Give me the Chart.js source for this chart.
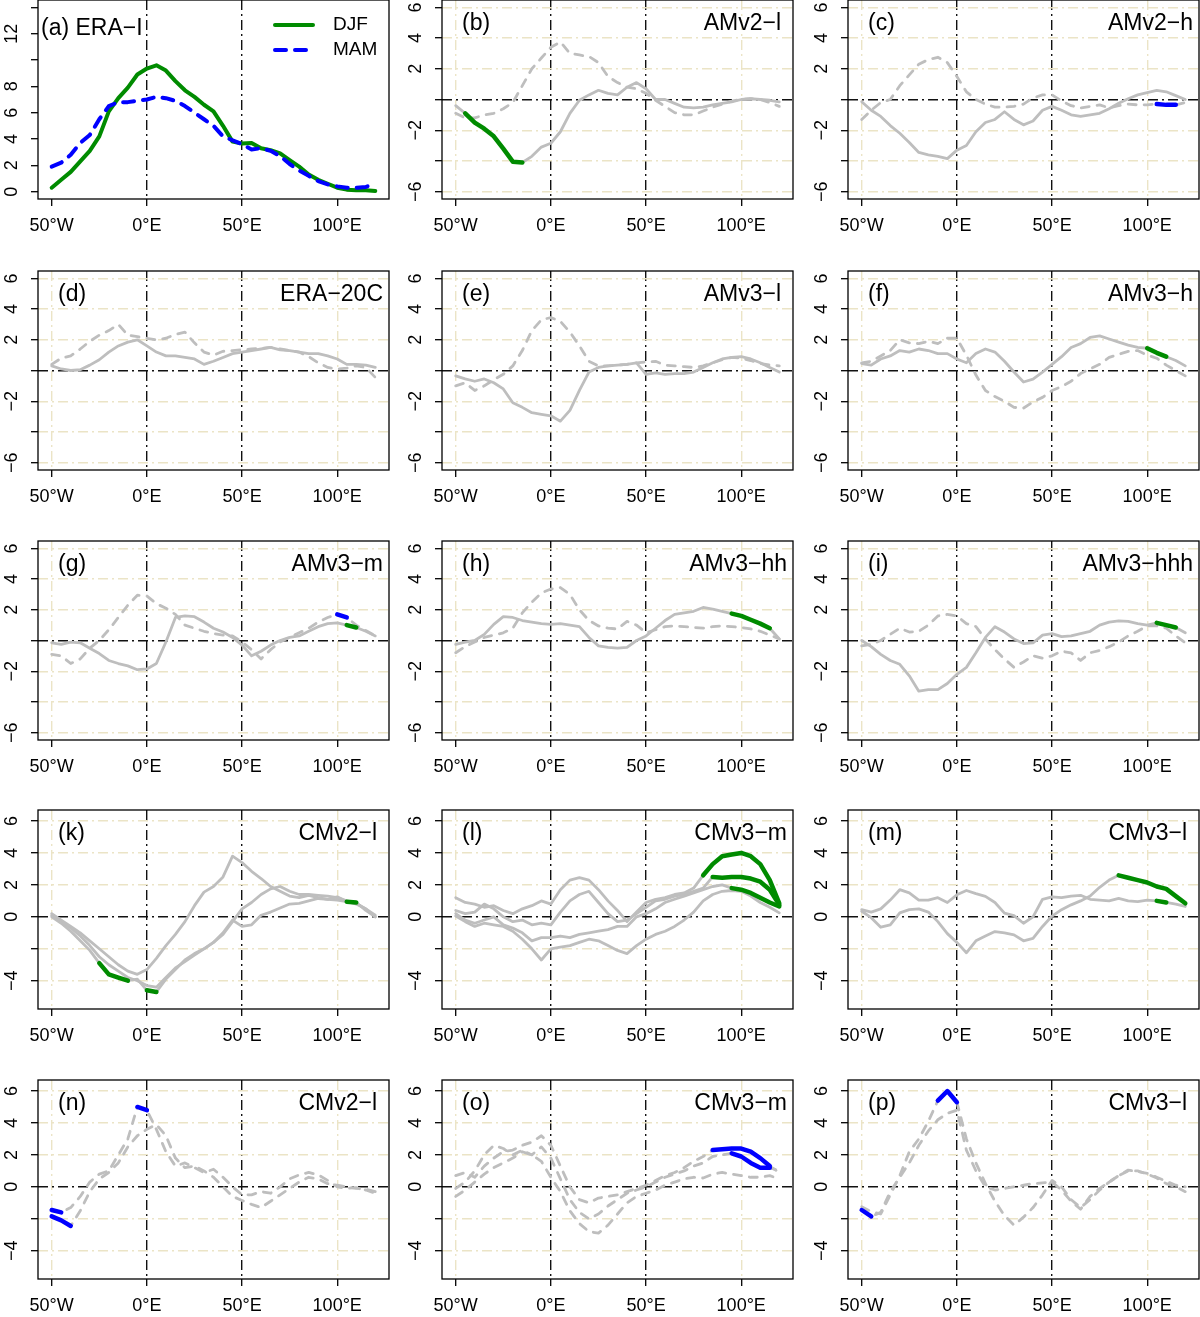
<!DOCTYPE html>
<html>
<head>
<meta charset="utf-8">
<script src="https://cdn.jsdelivr.net/npm/chart.js@4/dist/chart.umd.min.js"></script>
<style>
  html, body { margin: 0; padding: 0; background: #fff; }
  body { position: relative; width: 1200px; height: 1317px; overflow: hidden; }
  canvas { position: absolute; }
</style>
</head>
<body>
<script>
// longitude axis (degrees east)
const lon = [-50, -45, -40, -35, -30, -25, -20, -15, -10, -5, 0, 5, 10, 15, 20, 25, 30, 35,
             40, 45, 50, 55, 60, 65, 70, 75, 80, 85, 90, 95, 100, 105, 110, 115, 120];
const xTicks = [-50, 0, 50, 100];
const xTickLabels = ['50°W', '0°E', '50°E', '100°E'];

const yTicksA = [0, 2, 4, 6, 8, 10, 12, 14];
const yLabelsA = ['0', '2', '4', '6', '8', '', '12', ''];
const yTicksMid = [-6, -4, -2, 0, 2, 4, 6];
const yLabelsMid = ['−6', '', '−2', '', '2', '4', '6'];
const yTicksLow = [-4, -2, 0, 2, 4, 6];
const yLabelsLow = ['−4', '', '0', '2', '4', '6'];

const legendLabels = ['DJF', 'MAM'];

// (a) ERA-I
const aDJF = [0.3, 0.9, 1.5, 2.3, 3.1, 4.2, 6.1, 7.1, 7.9, 8.9, 9.35, 9.6, 9.2, 8.4, 7.7, 7.2, 6.6, 6.1, 5.0, 3.8, 3.65, 3.7, 3.3, 3.15, 2.9, 2.4, 1.9, 1.3, 0.9, 0.6, 0.3, 0.15, 0.1, 0.1, 0.05];
const aMAM = [1.9, 2.2, 2.8, 3.7, 4.3, 5.5, 6.5, 6.8, 6.8, 6.9, 7.0, 7.2, 7.1, 6.9, 6.5, 6.0, 5.5, 5.0, 4.2, 3.9, 3.6, 3.2, 3.3, 3.1, 2.7, 2.1, 1.6, 1.2, 0.8, 0.55, 0.4, 0.3, 0.3, 0.35, 0.65];

// (b)-(i) single-run differences
const bDJF = [-0.4, -0.9, -1.5, -1.9, -2.4, -3.2, -4.05, -4.1, -3.7, -3.1, -2.85, -2.1, -0.9, -0.05, 0.3, 0.6, 0.4, 0.3, 0.8, 1.1, 0.7, 0.0, 0.0, -0.25, -0.5, -0.55, -0.5, -0.35, -0.25, -0.15, 0.0, 0.05, 0.0, -0.05, -0.15];
const bMAM = [-0.9, -1.2, -1.2, -1.0, -0.9, -0.6, -0.2, 0.9, 2.0, 2.7, 3.4, 3.75, 3.0, 2.9, 2.8, 2.4, 1.5, 1.1, 0.8, 0.7, 0.4, -0.05, -0.45, -0.85, -1.0, -1.0, -0.75, -0.5, -0.3, -0.1, 0.0, 0.05, 0.0, -0.2, -0.45];
const cDJF = [-0.15, -0.7, -1.1, -1.7, -2.2, -2.8, -3.45, -3.6, -3.7, -3.85, -3.3, -3.0, -2.1, -1.5, -1.3, -0.8, -1.3, -1.65, -1.4, -0.7, -0.45, -0.7, -1.0, -1.1, -1.0, -0.9, -0.6, -0.25, 0.05, 0.3, 0.45, 0.6, 0.5, 0.25, 0.0];
const cMAM = [-1.3, -0.7, -0.2, 0.0, 0.9, 1.6, 2.3, 2.6, 2.75, 2.4, 1.5, 0.5, 0.0, -0.3, -0.5, -0.5, -0.45, -0.3, 0.1, 0.3, 0.3, -0.1, -0.4, -0.55, -0.45, -0.35, -0.55, -0.4, -0.3, -0.35, -0.35, -0.3, -0.35, -0.35, -0.2];
const dDJF = [0.3, 0.1, 0.0, 0.05, 0.35, 0.7, 1.2, 1.6, 1.85, 2.0, 1.6, 1.2, 0.95, 0.95, 0.85, 0.75, 0.4, 0.6, 0.85, 1.1, 1.2, 1.3, 1.4, 1.5, 1.35, 1.3, 1.2, 1.1, 1.1, 0.95, 0.75, 0.4, 0.4, 0.35, 0.2];
const dMAM = [0.4, 0.8, 0.95, 1.4, 1.9, 2.3, 2.6, 3.0, 2.3, 2.2, 2.1, 2.0, 2.1, 2.35, 2.5, 1.8, 1.2, 1.0, 1.25, 1.3, 1.35, 1.4, 1.45, 1.5, 1.4, 1.3, 1.2, 0.9, 0.5, 0.2, 0.1, 0.15, 0.3, 0.2, -0.45];
const eDJF = [-0.35, -0.55, -0.7, -0.55, -0.8, -1.2, -2.1, -2.4, -2.75, -2.85, -2.95, -3.3, -2.6, -1.3, -0.1, 0.2, 0.3, 0.35, 0.4, 0.5, -0.25, -0.15, -0.25, -0.2, -0.2, -0.1, 0.2, 0.5, 0.75, 0.85, 0.9, 0.75, 0.5, 0.2, -0.1];
const eMAM = [-1.0, -0.8, -1.3, -1.0, -0.6, -0.25, 0.3, 1.3, 2.6, 3.3, 3.45, 3.2, 2.5, 1.6, 0.6, 0.3, 0.3, 0.35, 0.4, 0.5, 0.55, 0.6, 0.35, 0.3, 0.25, 0.2, 0.3, 0.5, 0.7, 0.85, 0.8, 0.65, 0.45, 0.35, 0.3];
const fDJF = [0.45, 0.35, 0.75, 0.95, 1.3, 1.2, 1.4, 1.3, 1.1, 1.1, 0.75, 0.5, 1.1, 1.4, 1.2, 0.6, -0.1, -0.75, -0.56, -0.1, 0.4, 0.9, 1.5, 1.75, 2.15, 2.25, 2.05, 1.85, 1.65, 1.5, 1.45, 1.15, 0.9, 0.65, 0.3];
const fMAM = [0.5, 0.6, 0.95, 1.3, 2.0, 1.8, 1.75, 1.9, 1.75, 2.1, 2.1, 1.0, -0.3, -1.3, -1.7, -2.0, -2.4, -2.45, -2.05, -1.75, -1.3, -1.05, -0.7, -0.2, 0.1, 0.4, 0.85, 1.05, 1.25, 1.3, 1.0, 0.8, 0.35, 0.0, -0.35];
const gDJF = [-0.15, -0.25, -0.1, -0.15, -0.5, -0.85, -1.3, -1.5, -1.65, -1.9, -1.85, -1.5, -0.1, 1.5, 1.6, 1.55, 1.2, 0.8, 0.55, 0.2, -0.3, -1.0, -0.7, -0.3, 0.0, 0.2, 0.3, 0.6, 0.9, 1.1, 1.15, 1.0, 0.85, 0.6, 0.3];
const gMAM = [-0.9, -1.0, -1.5, -1.2, -0.5, 0.0, 0.7, 1.5, 2.3, 2.95, 2.9, 2.4, 2.1, 1.7, 1.0, 0.8, 0.6, 0.45, 0.35, 0.3, -0.1, -0.6, -1.2, -0.6, -0.1, 0.2, 0.5, 0.8, 1.2, 1.5, 1.7, 1.5, 1.0, 0.65, 0.3];
const hDJF = [-0.25, -0.1, 0.0, 0.4, 1.05, 1.55, 1.5, 1.3, 1.2, 1.1, 1.05, 1.1, 1.0, 0.9, 0.2, -0.35, -0.45, -0.5, -0.45, 0.0, 0.3, 0.8, 1.3, 1.7, 1.8, 1.9, 2.15, 2.05, 1.9, 1.75, 1.6, 1.35, 1.1, 0.8, 0.1];
const hMAM = [-0.8, -0.4, -0.1, 0.2, 0.35, 0.5, 0.8, 1.8, 2.5, 3.1, 3.35, 3.45, 3.0, 2.0, 1.3, 0.95, 0.8, 0.75, 1.25, 1.0, 0.5, 0.7, 0.9, 0.95, 0.9, 0.85, 0.8, 0.9, 0.95, 0.9, 0.85, 0.75, 0.6, 0.35, 0.1];
const iDJF = [0.0, -0.4, -0.9, -1.3, -1.55, -2.3, -3.3, -3.2, -3.2, -2.8, -2.2, -1.75, -0.8, 0.2, 0.9, 0.55, 0.1, -0.2, -0.15, 0.35, 0.45, 0.25, 0.3, 0.45, 0.6, 1.0, 1.2, 1.28, 1.25, 1.1, 1.0, 1.15, 1.0, 0.85, 0.5];
const iMAM = [-0.35, -0.25, 0.0, 0.4, 0.8, 0.55, 0.6, 1.0, 1.6, 1.7, 1.6, 1.1, 0.9, 0.1, -0.6, -1.2, -1.75, -1.4, -1.0, -1.15, -1.0, -0.7, -0.8, -1.3, -0.8, -0.65, -0.4, -0.1, 0.3, 0.6, 0.95, 0.95, 0.8, 0.3, -0.15];

// (k)-(m) coupled runs, DJF
const kDJF1 = [0.2, -0.2, -0.6, -1.0, -1.5, -2.0, -2.5, -3.0, -3.4, -3.6, -3.3, -2.6, -1.8, -1.1, -0.3, 0.7, 1.55, 1.9, 2.5, 3.8, 3.4, 2.85, 2.4, 1.9, 1.6, 1.3, 1.2, 1.35, 1.2, 1.1, 1.25, 0.96, 0.8, 0.5, 0.0];
const kDJF2 = [0.1, -0.3, -0.7, -1.2, -1.8, -2.5, -3.0, -3.4, -3.8, -4.0, -4.3, -4.4, -3.8, -3.2, -2.8, -2.4, -2.0, -1.6, -1.1, -0.3, 0.5, 0.9, 1.4, 1.75, 1.9, 1.6, 1.4, 1.4, 1.35, 1.3, 1.2, 1.0, 0.85, 0.5, 0.1];
const kDJF3 = [0.0, -0.4, -0.9, -1.5, -2.1, -2.9, -3.6, -3.8, -4.0, -3.9, -4.6, -4.7, -3.9, -3.3, -2.7, -2.3, -2.0, -1.6, -1.0, -0.2, -0.6, -0.5, 0.1, 0.3, 0.55, 0.8, 0.85, 1.0, 1.15, 1.1, 1.05, 0.95, 0.9, 0.4, 0.0];
const lDJF1 = [1.2, 0.9, 0.8, 0.6, 0.7, 0.4, 0.2, 0.5, 0.7, 1.0, 0.8, 1.7, 2.3, 2.45, 2.3, 1.7, 1.0, 0.4, -0.3, 0.3, 0.9, 1.1, 1.2, 1.4, 1.5, 1.8, 2.6, 3.3, 3.8, 3.9, 4.0, 3.8, 3.3, 2.3, 0.85];
const lDJF2 = [0.4, 0.2, 0.3, 0.8, 0.5, 0.0, -0.3, -0.2, -0.5, -0.4, -0.5, 0.3, 1.0, 1.4, 1.6, 0.9, 0.2, -0.3, -0.2, 0.2, 0.6, 1.0, 1.1, 1.3, 1.4, 1.6, 1.8, 2.5, 2.45, 2.5, 2.5, 2.4, 2.2, 1.7, 0.75];
const lDJF3 = [0.2, -0.2, -0.4, -0.2, 0.0, -0.5, -0.7, -1.0, -1.5, -1.3, -1.3, -1.2, -1.3, -1.1, -1.0, -0.9, -0.8, -0.6, -0.6, 0.0, 0.2, 0.5, 0.9, 1.1, 1.3, 1.5, 1.7, 1.9, 2.0, 1.8, 1.7, 1.5, 1.2, 0.9, 0.65];
const lDJF4 = [0.05, -0.3, -0.6, -0.4, -0.5, -0.6, -0.9, -1.4, -2.0, -2.7, -2.0, -1.9, -1.8, -1.6, -1.4, -1.5, -1.8, -2.1, -2.3, -1.8, -1.4, -1.1, -0.9, -0.6, -0.2, 0.3, 1.0, 1.4, 1.6, 1.65, 1.6, 1.3, 0.9, 0.6, 0.25];
const mDJF1 = [0.45, 0.3, 0.5, 1.05, 1.7, 1.5, 1.05, 1.05, 1.2, 0.9, 1.38, 1.65, 1.45, 1.28, 0.9, 0.23, 0.08, -0.4, 0.0, 1.1, 1.25, 1.2, 1.3, 1.35, 1.1, 1.05, 1.0, 1.15, 1.0, 0.95, 1.05, 1.0, 0.9, 0.8, 0.65];
const mDJF2 = [0.35, -0.05, -0.65, -0.5, 0.25, 0.45, 0.5, 0.3, -0.3, -1.05, -1.6, -2.25, -1.5, -1.2, -0.92, -1.0, -1.13, -1.5, -1.35, -0.6, 0.05, 0.45, 0.75, 1.0, 1.3, 1.85, 2.3, 2.6, 2.45, 2.3, 2.15, 1.9, 1.75, 1.3, 0.85];

// (n)-(p) coupled runs, MAM
const nMAM1 = [-1.45, -1.6, -1.3, -0.6, 0.3, 0.8, 1.0, 2.0, 3.0, 5.0, 4.8, 3.6, 2.2, 1.3, 1.5, 1.2, 0.9, 1.1, 0.6, 0.0, -0.5, -0.5, -0.3, -0.4, 0.0, 0.5, 0.75, 0.9, 0.75, 0.4, 0.0, -0.1, -0.05, -0.2, -0.4];
const nMAM2 = [-1.85, -2.1, -2.45, -1.5, -0.3, 0.5, 0.9, 1.5, 2.5, 3.2, 3.6, 3.9, 3.2, 1.8, 1.2, 1.3, 1.0, 0.6, 0.0, -0.6, -0.85, -1.1, -1.3, -0.9, -0.5, -0.1, 0.3, 0.6, 0.5, 0.2, 0.1, 0.0, -0.1, -0.15, -0.3];
const oMAM1 = [0.7, 0.9, 0.6, 1.3, 1.8, 2.2, 2.3, 2.6, 2.8, 3.2, 2.6, 1.3, 0.0, -0.8, -1.0, -0.7, -0.6, -0.5, -0.3, -0.1, 0.1, 0.4, 0.7, 0.9, 1.2, 1.6, 1.9, 2.3, 2.35, 2.4, 2.4, 2.2, 1.8, 1.3, 0.9];
const oMAM2 = [-0.1, 0.3, 1.0, 2.0, 2.6, 2.4, 2.0, 2.3, 2.0, 2.5, 1.8, 0.5, -0.8, -1.6, -2.0, -1.7, -1.2, -0.8, -0.4, -0.2, 0.0, 0.3, 0.6, 0.8, 1.0, 1.3, 1.5, 1.9, 2.0, 2.1, 1.9, 1.5, 1.2, 1.2, 1.0];
const oMAM3 = [-0.6, -0.2, 0.3, 0.8, 1.2, 1.5, 1.8, 2.2, 2.0, 1.6, 0.6, -0.3, -1.5, -2.3, -2.8, -2.9, -2.4, -1.7, -1.0, -0.6, -0.4, -0.2, 0.1, 0.3, 0.5, 0.6, 0.55, 0.8, 0.9, 0.8, 0.7, 0.6, 0.6, 0.7, 0.5];
const pMAM1 = [-1.25, -1.55, -1.7, -0.5, 0.7, 2.2, 3.0, 4.1, 5.4, 6.0, 5.3, 3.0, 1.5, 0.2, -0.9, -1.8, -2.4, -1.9, -1.3, -0.5, 0.4, 0.0, -0.8, -1.3, -0.8, -0.2, 0.3, 0.7, 1.0, 1.0, 0.8, 0.55, 0.2, 0.0, -0.3];
const pMAM2 = [-1.45, -1.85, -1.6, -0.3, 0.6, 1.5, 2.6, 3.5, 4.2, 4.6, 4.8, 2.3, 1.0, 0.0, -0.2, -0.1, 0.0, 0.1, 0.2, 0.25, 0.3, -0.2, -0.9, -1.4, -0.6, -0.1, 0.3, 0.7, 1.05, 0.95, 0.85, 0.6, 0.35, 0.1, 0.0];

// significant stretches, [from, to] in degrees east
const bDJFSig = [[-45, -15]];
const cMAMSig = [[105, 115]];
const fDJFSig = [[98, 112]];
const gDJFSig = [[104, 110]];
const gMAMSig = [[98, 106]];
const hDJFSig = [[95, 115]];
const iDJFSig = [[101, 116]];
const kDJF3Sig = [[-25, -10], [0, 5], [105, 110]];
const lDJF1Sig = [[80, 120]];
const lDJF2Sig = [[85, 120]];
const lDJF3Sig = [[95, 120]];
const mDJF1Sig = [[104, 110]];
const mDJF2Sig = [[85, 120]];
const nMAM1Sig = [[-50, -45], [-5, 0]];
const nMAM2Sig = [[-50, -40]];
const oMAM1Sig = [[85, 115]];
const oMAM2Sig = [[95, 115]];
const pMAM1Sig = [[-12, 2]];
const pMAM2Sig = [[-50, -45]];

const GRAY = '#bebebe', GREEN = '#008b00', BLUE = '#0000ff';
const BEIGE = '#ebe4c6', REF = '#111111';
const FONT = '"Liberation Sans", Arial, Helvetica, sans-serif';

const BOX_L = [38, 442, 848];
const BOX_T = [0, 271, 541, 810, 1080];
const BOX_W = 351, BOX_H = 199;
const Y_W = 38, X_H = 42, PAD_T = 1, PAD_R = 2;
const X_MIN = -57.2, X_MAX = 127.2;

const Y_KINDS = {
  a:   { min: -0.56, max: 14.56, ticks: yTicksA, labels: yLabelsA },
  mid: { min: -6.48, max: 6.48, ticks: yTicksMid, labels: yLabelsMid },
  low: { min: -5.77, max: 6.69, ticks: yTicksLow, labels: yLabelsLow }
};

const panels = [
  { col: 0, row: 0, tag: '(a) ERA−I', name: '', y: 'a', plain: true, legend: true },
  { col: 1, row: 0, tag: '(b)', name: 'AMv2−l', y: 'mid', djf: [[bDJF, bDJFSig]], mam: [[bMAM, null]] },
  { col: 2, row: 0, tag: '(c)', name: 'AMv2−h', y: 'mid', djf: [[cDJF, null]], mam: [[cMAM, cMAMSig]] },
  { col: 0, row: 1, tag: '(d)', name: 'ERA−20C', y: 'mid', djf: [[dDJF, null]], mam: [[dMAM, null]] },
  { col: 1, row: 1, tag: '(e)', name: 'AMv3−l', y: 'mid', djf: [[eDJF, null]], mam: [[eMAM, null]] },
  { col: 2, row: 1, tag: '(f)', name: 'AMv3−h', y: 'mid', djf: [[fDJF, fDJFSig]], mam: [[fMAM, null]] },
  { col: 0, row: 2, tag: '(g)', name: 'AMv3−m', y: 'mid', djf: [[gDJF, gDJFSig]], mam: [[gMAM, gMAMSig]] },
  { col: 1, row: 2, tag: '(h)', name: 'AMv3−hh', y: 'mid', djf: [[hDJF, hDJFSig]], mam: [[hMAM, null]] },
  { col: 2, row: 2, tag: '(i)', name: 'AMv3−hhh', y: 'mid', djf: [[iDJF, iDJFSig]], mam: [[iMAM, null]] },
  { col: 0, row: 3, tag: '(k)', name: 'CMv2−l', y: 'low', djf: [[kDJF1, null], [kDJF2, null], [kDJF3, kDJF3Sig]], mam: [] },
  { col: 1, row: 3, tag: '(l)', name: 'CMv3−m', y: 'low', djf: [[lDJF1, lDJF1Sig], [lDJF2, lDJF2Sig], [lDJF3, lDJF3Sig], [lDJF4, null]], mam: [] },
  { col: 2, row: 3, tag: '(m)', name: 'CMv3−l', y: 'low', djf: [[mDJF1, mDJF1Sig], [mDJF2, mDJF2Sig]], mam: [] },
  { col: 0, row: 4, tag: '(n)', name: 'CMv2−l', y: 'low', djf: [], mam: [[nMAM1, nMAM1Sig], [nMAM2, nMAM2Sig]] },
  { col: 1, row: 4, tag: '(o)', name: 'CMv3−m', y: 'low', djf: [], mam: [[oMAM1, oMAM1Sig], [oMAM2, oMAM2Sig], [oMAM3, null]] },
  { col: 2, row: 4, tag: '(p)', name: 'CMv3−l', y: 'low', djf: [], mam: [[pMAM1, pMAM1Sig], [pMAM2, pMAM2Sig]] }
];

function inSig(x, sig) {
  if (!sig) return true;
  return sig.some(r => x >= r[0] && x <= r[1]);
}

function points(vals, sig) {
  return lon.map((x, i) => ({ x: x, y: inSig(x, sig) ? vals[i] : null }));
}

// lower "order" is drawn on top
function line(vals, sig, color, width, dash, order) {
  return {
    data: points(vals, sig),
    borderColor: color,
    borderWidth: width,
    borderDash: dash,
    borderCapStyle: 'round',
    borderJoinStyle: 'round',
    pointRadius: 0,
    fill: false,
    spanGaps: false,
    tension: 0,
    order: order
  };
}

function buildDatasets(p) {
  if (p.plain) {
    return [line(aDJF, null, GREEN, 4, [], 2), line(aMAM, null, BLUE, 4, [11, 9], 1)];
  }
  const ds = [];
  p.djf.forEach(([v]) => ds.push(line(v, null, GRAY, 2.8, [], 2)));
  p.mam.forEach(([v]) => ds.push(line(v, null, GRAY, 2.8, [8, 8], 2)));
  p.djf.forEach(([v, s]) => { if (s) ds.push(line(v, s, GREEN, 4.5, [], 1)); });
  p.mam.forEach(([v, s]) => { if (s) ds.push(line(v, s, BLUE, 4.5, [], 1)); });
  return ds;
}

// box, panel titles and the legend of panel (a)
function decor(p) {
  return {
    id: 'decor',
    afterDraw(chart) {
      const ctx = chart.ctx, a = chart.chartArea;
      ctx.save();
      ctx.setLineDash([]);
      ctx.strokeStyle = '#000';
      ctx.lineWidth = 1.3;
      ctx.strokeRect(a.left, a.top, a.right - a.left, a.bottom - a.top);

      ctx.fillStyle = '#000';
      ctx.font = '23px ' + FONT;
      ctx.textBaseline = 'alphabetic';
      ctx.textAlign = 'left';
      ctx.fillText(p.tag, a.left + (p.legend ? 3 : 20), a.top + (p.legend ? 35 : 30));
      if (p.name) {
        ctx.textAlign = 'right';
        const inset = p.name.endsWith('l') ? 12 : 6;
        ctx.fillText(p.name, a.right - inset, a.top + 30);
      }

      if (p.legend) {
        const styles = [[GREEN, []], [BLUE, [11, 9]]];
        styles.forEach(([col, dash], i) => {
          const y = a.top + 25 + i * 25;
          ctx.strokeStyle = col;
          ctx.lineWidth = 4;
          ctx.lineCap = 'round';
          ctx.setLineDash(dash);
          ctx.beginPath();
          ctx.moveTo(a.left + 237, y);
          ctx.lineTo(a.left + 275, y);
          ctx.stroke();
          ctx.setLineDash([]);
          ctx.font = '19px ' + FONT;
          ctx.textAlign = 'left';
          ctx.textBaseline = 'middle';
          ctx.fillText(legendLabels[i], a.left + 295, y);
        });
      }
      ctx.restore();
    }
  };
}

function makePanel(p) {
  const w = Y_W + BOX_W + PAD_R, h = PAD_T + BOX_H + X_H;
  const cv = document.createElement('canvas');
  cv.width = w;
  cv.height = h;
  cv.style.left = (BOX_L[p.col] - Y_W) + 'px';
  cv.style.top = (BOX_T[p.row] - PAD_T) + 'px';
  cv.style.width = w + 'px';
  cv.style.height = h + 'px';
  document.body.appendChild(cv);

  const yk = Y_KINDS[p.y];
  const clear = 'rgba(0,0,0,0)';

  new Chart(cv, {
    type: 'line',
    data: { datasets: buildDatasets(p) },
    options: {
      responsive: false,
      animation: false,
      events: [],
      layout: { padding: { top: PAD_T, right: PAD_R, left: 0, bottom: 0 } },
      plugins: { legend: { display: false }, tooltip: { enabled: false } },
      scales: {
        x: {
          type: 'linear',
          min: X_MIN,
          max: X_MAX,
          afterBuildTicks: s => { s.ticks = xTicks.map(v => ({ value: v })); },
          afterFit: s => {
            s.height = X_H;
            s.paddingLeft = s.paddingRight = s.paddingTop = s.paddingBottom = 0;
          },
          grid: {
            color: c => {
              const v = c.tick ? c.tick.value : null;
              if (v === 0 || v === 50) return REF;
              return p.plain ? clear : BEIGE;
            },
            lineWidth: 1.4,
            drawTicks: true,
            tickLength: 7,
            tickColor: '#000',
            tickWidth: 1.3,
            tickBorderDash: []
          },
          border: { display: false, dash: [10, 4, 2, 4] },
          ticks: {
            autoSkip: false,
            maxRotation: 0,
            minRotation: 0,
            padding: 9,
            color: '#000',
            font: { family: FONT, size: 18 },
            callback: v => {
              const i = xTicks.indexOf(v);
              return i < 0 ? '' : xTickLabels[i];
            }
          }
        },
        y: {
          type: 'linear',
          min: yk.min,
          max: yk.max,
          afterBuildTicks: s => { s.ticks = yk.ticks.map(v => ({ value: v })); },
          afterFit: s => {
            s.width = Y_W;
            s.paddingLeft = s.paddingRight = s.paddingTop = s.paddingBottom = 0;
          },
          grid: {
            color: c => {
              if (p.plain) return clear;
              const v = c.tick ? c.tick.value : null;
              return v === 0 ? REF : BEIGE;
            },
            lineWidth: 1.4,
            drawTicks: true,
            tickLength: 7,
            tickColor: '#000',
            tickWidth: 1.3,
            tickBorderDash: []
          },
          border: { display: false, dash: [10, 4, 2, 4] },
          ticks: {
            autoSkip: false,
            minRotation: 90,
            maxRotation: 90,
            crossAlign: 'center',
            padding: 9,
            color: '#000',
            font: { family: FONT, size: 18 },
            callback: v => {
              const i = yk.ticks.indexOf(v);
              return i < 0 ? '' : yk.labels[i];
            }
          }
        }
      }
    },
    plugins: [decor(p)]
  });
}

panels.forEach(makePanel);
</script>
</body>
</html>
